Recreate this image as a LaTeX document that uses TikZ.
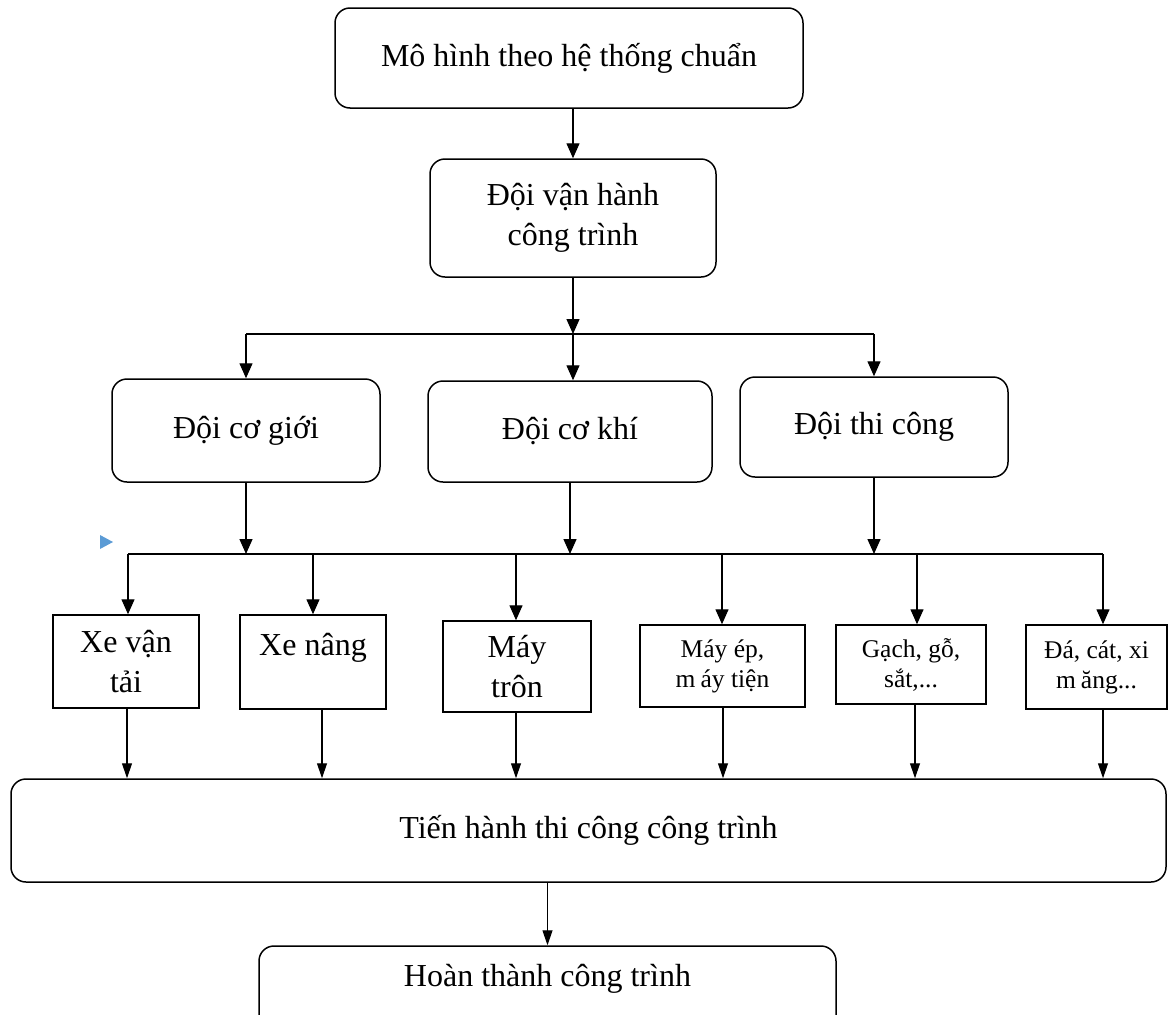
\documentclass[tikz,border=0pt]{standalone}
\usepackage{fontspec}
\setmainfont{Liberation Serif}
\usetikzlibrary{arrows.meta}
\definecolor{markblue}{RGB}{91,155,213}
\begin{document}
\begin{tikzpicture}[x=1pt,y=-1pt,
  every node/.style={inner sep=0pt, align=center, font=\fontsize{32}{40}\selectfont},
  rbox/.style={draw, line width=1.5pt, rounded corners=15pt},
  sbox/.style={draw, line width=1.5pt},
  small/.style={font=\fontsize{25.5}{30}\selectfont},
  link/.style={line width=1.4pt},
  arr/.style={link, -{Triangle[length=15pt,width=13pt]}},
  thinarr/.style={line width=1.2pt, -{Triangle[length=15pt,width=10pt]}}]

\useasboundingbox (0,0) rectangle (1168,1015);
\fill[white] (0,0) rectangle (1168,1015);
\clip (0,0) rectangle (1168,1015);

% upper levels
\node[rbox, minimum width=468pt, minimum height=100pt] (std) at (569,58) {Mô hình theo hệ thống chuẩn};
\node[rbox, minimum width=286pt, minimum height=118pt] (ops) at (573,218) {Đội vận hành\\công trình};
\node[rbox, minimum width=268pt, minimum height=103pt] (cg) at (246,430.5) {Đội cơ giới};
\node[rbox, minimum width=284pt, minimum height=101pt] (ck) at (570,431.5) {Đội cơ khí};
\node[rbox, minimum width=268pt, minimum height=100pt] (tc) at (874,427) {Đội thi công};

% equipment and materials
\node[sbox, minimum width=146pt, minimum height=93pt] (xvt) at (126,661.5) {Xe vận\\tải};
\node[sbox, minimum width=146pt, minimum height=94pt, text height=22pt, text depth=36pt] (xn) at (313,662) {Xe nâng};
\node[sbox, minimum width=148pt, minimum height=91pt] (mt) at (517,666.5) {Máy\\trôn};
\node[sbox, small, minimum width=165pt, minimum height=82pt] (me) at (722.5,666) {Máy ép,\\m\hspace{0.2em}áy tiện};
\node[sbox, small, minimum width=150pt, minimum height=79pt] (gg) at (911,664.5) {Gạch, gỗ,\\sắt,...};
\node[sbox, small, minimum width=141pt, minimum height=84pt] (dc) at (1096.5,667) {Đá, cát, xi\\m\hspace{0.2em}ăng...};

% lower levels
\node[rbox, minimum width=1155pt, minimum height=103pt] (run) at (588.5,830.5) {Tiến hành thi công công trình};
\node[rbox, minimum width=577pt, minimum height=90pt, text height=22pt, text depth=32pt] (done) at (547.5,991) {Hoàn thành công trình};

% first branching
\coordinate (j1) at (573,334);
\draw[arr] (std.south -| ops.north) -- (ops.north);
\draw[arr] (ops.south) -- (j1);
\draw[link] (cg.north |- j1) -- (tc.north |- j1);
\draw[arr] (cg.north |- j1) -- (cg.north);
\draw[arr] (j1) -- (j1 |- ck.north);
\draw[arr] (tc.north |- j1) -- (tc.north);

% second branching
\coordinate (j2) at (571,554);
\coordinate (d1) at (128,554);
\coordinate (d2) at (313,554);
\coordinate (d3) at (516,554);
\coordinate (d4) at (722,554);
\coordinate (d5) at (917,554);
\coordinate (d6) at (1103,554);
\draw[arr] (cg.south) -- (cg.south |- j2);
\draw[arr] (ck.south) -- (ck.south |- j2);
\draw[arr] (tc.south) -- (tc.south |- j2);
\draw[link] (d1) -- (d6);
\draw[arr] (d1) -- (d1 |- xvt.north);
\draw[arr] (d2) -- (d2 |- xn.north);
\draw[arr] (d3) -- (d3 |- mt.north);
\draw[arr] (d4) -- (d4 |- me.north);
\draw[arr] (d5) -- (d5 |- gg.north);
\draw[arr] (d6) -- (d6 |- dc.north);

% merging into construction
\coordinate (u1) at (127,779);
\coordinate (u2) at (322,779);
\coordinate (u3) at (516,779);
\coordinate (u4) at (723,779);
\coordinate (u5) at (915,779);
\coordinate (u6) at (1103,779);
\draw[thinarr] (u1 |- xvt.south) -- (u1 |- run.north);
\draw[thinarr] (u2 |- xn.south) -- (u2 |- run.north);
\draw[thinarr] (u3 |- mt.south) -- (u3 |- run.north);
\draw[thinarr] (u4 |- me.south) -- (u4 |- run.north);
\draw[thinarr] (u5 |- gg.south) -- (u5 |- run.north);
\draw[thinarr] (u6 |- dc.south) -- (u6 |- run.north);
\draw[thinarr] (done.north |- run.south) -- (done.north);

% small marker
\fill[markblue] (100,535) -- (113,542) -- (100,549) -- cycle;
\end{tikzpicture}
\end{document}
